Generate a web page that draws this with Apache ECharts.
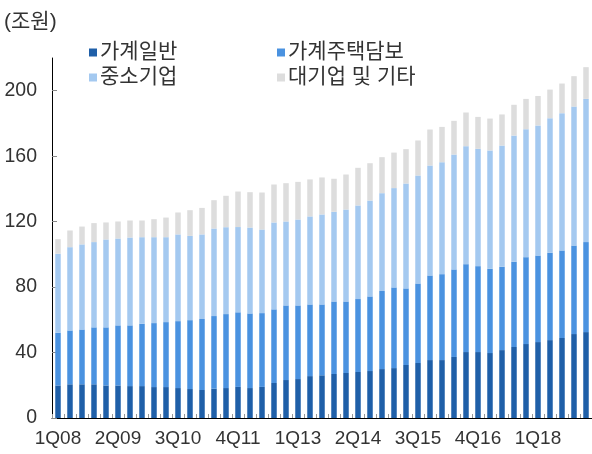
<!DOCTYPE html>
<html>
<head>
<meta charset="utf-8">
<script src="https://cdn.jsdelivr.net/npm/echarts@6/dist/echarts.min.js"></script>
<style>
  html, body { margin: 0; padding: 0; background: #fff; }
  #chart { width: 592px; height: 454px; }
</style>
</head>
<body>
<div id="chart"></div>
<script>
// 1Q08 ~ 1Q19, 분기별
var quarters = [];
for (var y = 8; y <= 19; y++) {
    for (var q = 1; q <= 4; q++) {
        if (y === 19 && q > 1) break;
        quarters.push(q + 'Q' + (y < 10 ? '0' + y : y));
    }
}

var yTicks = [0, 40, 80, 120, 160, 200];

// 가계일반
var householdGeneral = [
    19.9, 20.6, 20.6, 20.6, 19.9, 19.9, 19.5, 19.5, 18.9, 18.9, 18.3, 17.7, 17.1, 17.9, 18.3,
    19.0, 18.3, 19.0, 21.4, 23.2, 23.8, 25.6, 26.1, 26.9, 27.5, 28.1, 28.7, 29.9, 30.5, 32.4,
    33.6, 35.4, 35.4, 37.3, 40.3, 40.3, 39.7, 41.5, 43.4, 45.2, 46.4, 47.6, 48.9, 51.3, 52.5
];
// 가계주택담보
var householdMortgage = [
    32.2, 32.9, 33.5, 34.8, 35.5, 36.7, 37.1, 38.1, 39.1, 39.7, 40.9, 42.1, 43.4, 44.4, 45.2,
    45.6, 45.6, 45.1, 45.0, 45.6, 45.0, 43.8, 43.3, 44.3, 43.7, 44.6, 45.6, 47.7, 49.3, 46.8,
    48.6, 51.7, 52.5, 53.5, 53.7, 52.5, 51.5, 50.9, 52.1, 53.1, 52.9, 53.4, 53.5, 54.1, 55.0
];
// 중소기업
var sme = [
    48.3, 50.9, 52.0, 52.1, 53.7, 53.1, 53.7, 52.9, 52.5, 51.9, 53.0, 51.5, 51.7, 53.5, 53.1,
    52.1, 52.5, 51.1, 53.1, 51.3, 52.5, 53.8, 55.0, 54.8, 56.2, 57.2, 58.6, 59.8, 60.7, 64.1,
    66.0, 67.2, 68.4, 70.2, 72.1, 71.7, 72.3, 74.1, 77.1, 78.2, 79.5, 82.2, 83.9, 84.9, 87.5
];
// 대기업 및 기타
var largeEtc = [
    8.9, 10.2, 10.9, 11.6, 10.4, 10.4, 10.4, 10.2, 11.0, 12.0, 13.4, 15.7, 16.2, 17.3, 19.2,
    21.7, 21.6, 22.6, 23.2, 23.4, 23.0, 22.6, 22.6, 20.2, 21.4, 23.0, 22.8, 22.0, 21.7, 21.0,
    21.4, 22.0, 21.6, 20.6, 20.6, 19.5, 19.5, 19.0, 18.8, 18.5, 18.0, 17.5, 18.1, 18.6, 19.4
];

var FONT = "'Liberation Sans', 'Noto Sans CJK KR', sans-serif";

var myChart = echarts.init(document.getElementById('chart'));

function bar(name, data, color) {
    return {
        name: name,
        type: 'bar',
        stack: 'total',
        barWidth: 5.5,
        itemStyle: { color: color },
        data: data
    };
}

function legendBox(names, left) {
    return {
        data: names,
        orient: 'vertical',
        left: left,
        top: 42,
        padding: 0,
        itemWidth: 8,
        itemHeight: 8,
        itemGap: 4,
        icon: 'rect',
        textStyle: { fontSize: 21, lineHeight: 20, color: '#333', fontFamily: FONT, padding: [0, 0, 0, -2] }
    };
}

var option = {
    animation: false,
    textStyle: { fontFamily: FONT },
    title: {
        text: '(조원)',
        left: 4,
        top: 12,
        padding: 0,
        textStyle: { fontSize: 21, fontWeight: 'normal', color: '#333', fontFamily: FONT }
    },
    legend: [
        legendBox(['가계일반', '중소기업'], 89),
        legendBox(['가계주택담보', '대기업 및 기타'], 277)
    ],
    grid: {
        left: 52,
        right: 0,
        top: 58,
        bottom: 36,
        containLabel: false
    },
    xAxis: {
        type: 'category',
        data: quarters,
        boundaryGap: true,
        axisLine: { lineStyle: { color: '#000', width: 1 } },
        axisTick: {
            show: true,
            inside: true,
            interval: 0,
            length: 4,
            lineStyle: { color: '#999' }
        },
        axisLabel: {
            interval: 4,
            margin: 11,
            fontSize: 19,
            color: '#333',
            fontFamily: FONT
        }
    },
    yAxis: {
        type: 'value',
        min: 0,
        max: 220,
        interval: 40,
        splitLine: { show: false },
        axisLine: { show: true, lineStyle: { color: '#000', width: 1 } },
        axisTick: {
            show: true,
            inside: true,
            length: 5,
            customValues: yTicks,
            lineStyle: { color: '#888' }
        },
        axisLabel: {
            margin: 15,
            fontSize: 19.5,
            color: '#333',
            fontFamily: FONT,
            customValues: yTicks
        }
    },
    series: [
        bar('가계일반', householdGeneral, '#1f5fa8'),
        bar('가계주택담보', householdMortgage, '#4a92e0'),
        bar('중소기업', sme, '#a4c9f0'),
        bar('대기업 및 기타', largeEtc, '#dddddd')
    ]
};

myChart.setOption(option);
window.addEventListener('resize', function () {
    myChart.resize();
});
</script>
</body>
</html>
